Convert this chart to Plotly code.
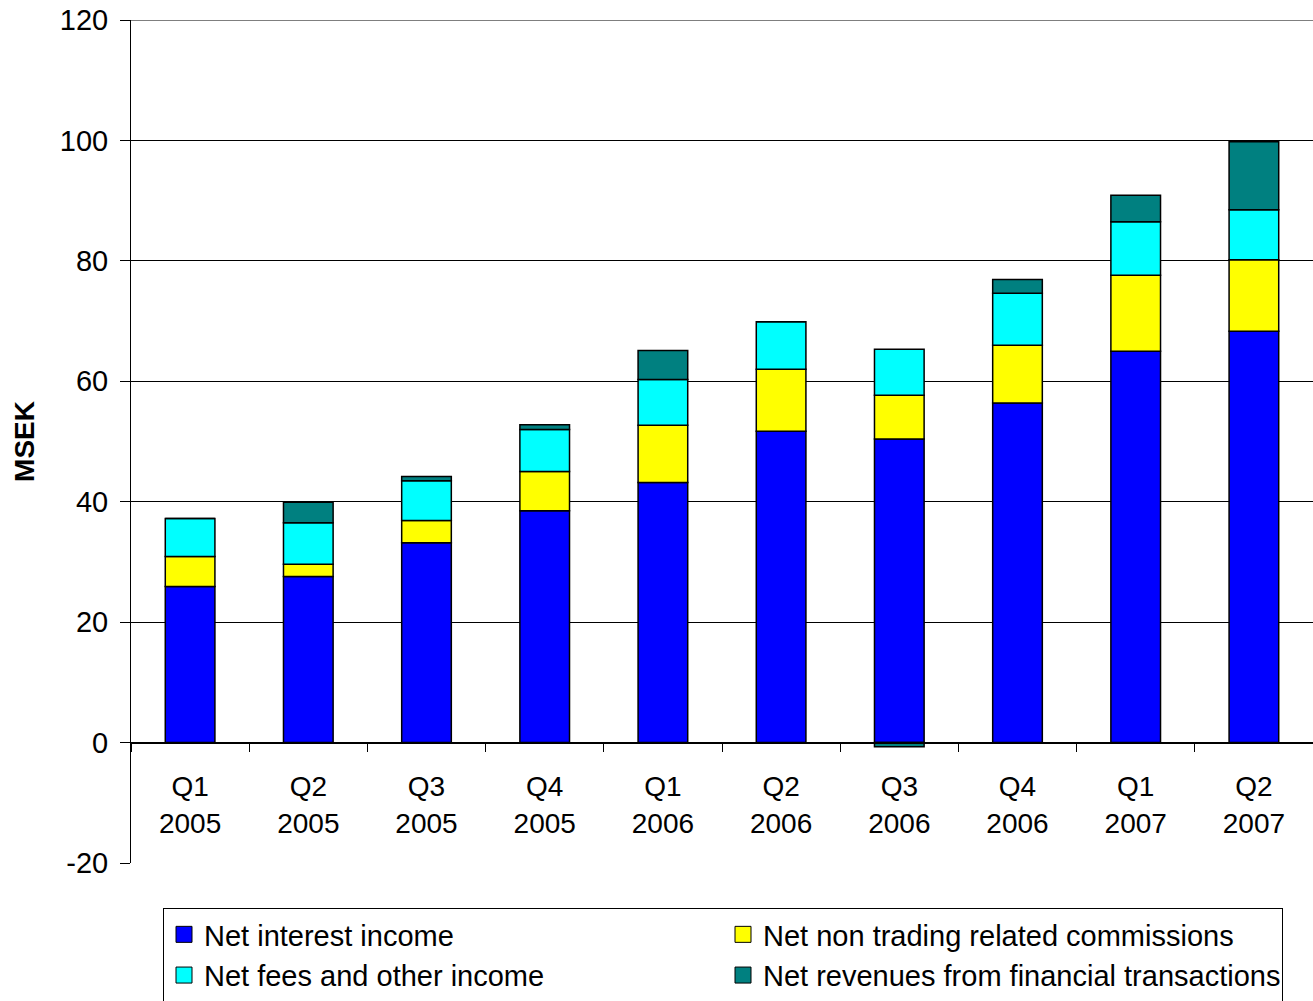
import plotly.graph_objects as go

quarters = ["Q1<br>2005", "Q2<br>2005", "Q3<br>2005", "Q4<br>2005", "Q1<br>2006",
            "Q2<br>2006", "Q3<br>2006", "Q4<br>2006", "Q1<br>2007", "Q2<br>2007"]
net_interest = [25.9, 27.6, 33.2, 38.5, 43.2, 51.7, 50.4, 56.4, 65.0, 68.3]
net_commissions = [5.0, 2.0, 3.7, 6.5, 9.5, 10.3, 7.3, 9.6, 12.6, 11.9]
net_fees = [6.3, 6.9, 6.6, 7.0, 7.6, 7.9, 7.6, 8.6, 8.9, 8.3]
net_financial = [0.0, 3.4, 0.7, 0.8, 4.8, 0.0, -0.7, 2.3, 4.4, 11.3]
y_ticks = [-20, 0, 20, 40, 60, 80, 100, 120]
y_tick_labels = ["-20", "0", "20", "40", "60", "80", "100", "120"]

series = [
    ("Net interest income", net_interest, "#0000FF"),
    ("Net non trading related commissions", net_commissions, "#FFFF00"),
    ("Net fees and other income", net_fees, "#00FFFF"),
    ("Net revenues from financial transactions", net_financial, "#008080"),
]

FONT = "Liberation Sans, Arial, sans-serif"

fig = go.Figure()
for name, vals, color in series:
    fig.add_trace(go.Bar(
        x=quarters, y=vals, name=name, width=0.42, showlegend=False,
        marker=dict(color=color, line=dict(color="black", width=1.5)),
    ))
# legend entries with larger square swatches
for name, vals, color in series:
    fig.add_trace(go.Scatter(
        x=[None], y=[None], mode="markers", name=name, showlegend=True,
        marker=dict(symbol="square", size=16, color=color, line=dict(color="black", width=1)),
        hoverinfo="skip",
    ))

W, H = 1313, 1001
ymin, ymax = -20, 120
# top gridline at the upper end of the value axis
fig.add_shape(type="line", xref="paper", yref="y", x0=0, x1=1, y0=ymax, y1=ymax,
              line=dict(color="black", width=1), layer="below")

fig.update_layout(
    width=W, height=H,
    barmode="relative",
    plot_bgcolor="white", paper_bgcolor="white",
    margin=dict(l=131, r=0, t=20, b=138, autoexpand=False),
    font=dict(family=FONT, size=28, color="black"),
    legend=dict(
        orientation="h", xref="container", yref="container",
        x=163 / W, y=(H - 908) / H, xanchor="left", yanchor="top",
        entrywidth=514, entrywidthmode="pixels",
        itemsizing="trace",
        bordercolor="black", borderwidth=1,
        font=dict(family=FONT, size=29, color="black"),
        traceorder="normal", itemclick=False,
    ),
    xaxis=dict(
        type="category", anchor="free", position=(0 - ymin) / (ymax - ymin),
        showline=True, linecolor="black", linewidth=1,
        ticks="outside", tickson="boundaries", ticklen=8, tickcolor="black",
        ticklabelstandoff=19,
        tickfont=dict(family=FONT, size=28, color="black"),
        showgrid=False,
    ),
    yaxis=dict(
        range=[ymin, ymax], tickvals=y_ticks, ticktext=y_tick_labels,
        showgrid=True, gridcolor="black", gridwidth=1,
        showline=True, linecolor="black", linewidth=1,
        ticks="outside", ticklen=10, tickcolor="black",
        ticklabelstandoff=6,
        zeroline=False,
        tickfont=dict(family=FONT, size=29, color="black"),
        title=dict(text="<b>MSEK</b>", font=dict(family=FONT, size=28, color="black"), standoff=17),
    ),
)

fig.write_html("out.html", config={"displayModeBar": False},
               post_script="document.body.style.margin='0';")
